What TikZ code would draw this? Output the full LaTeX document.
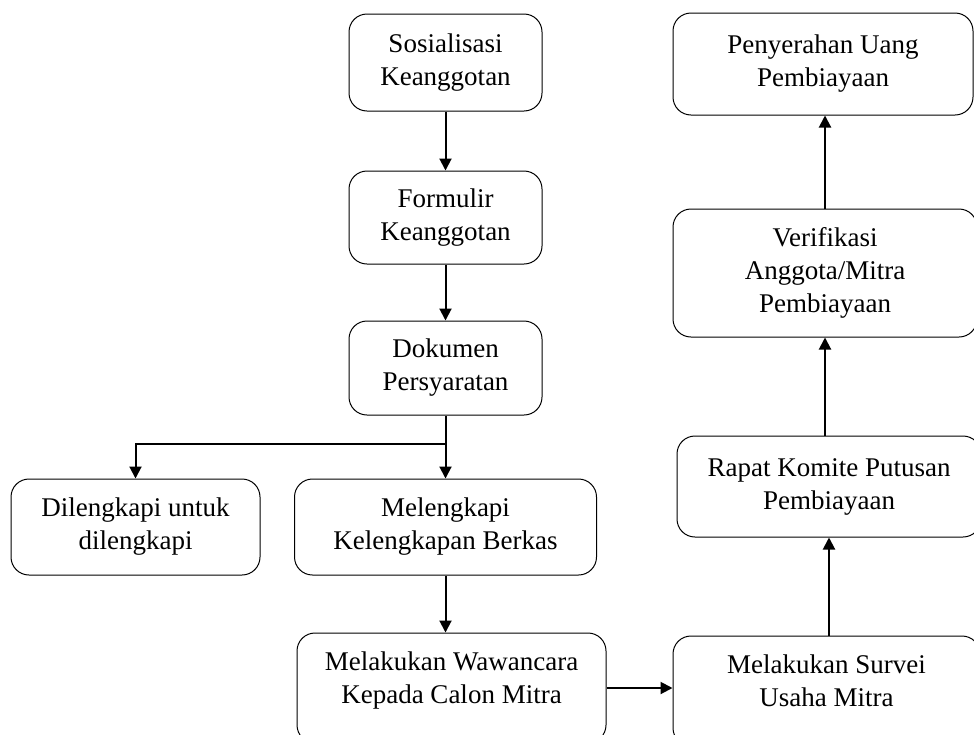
\documentclass[tikz,border=0pt]{standalone}
\usepackage{fontspec}
\setmainfont{Liberation Serif}
\usetikzlibrary{arrows.meta}

\begin{document}
\begin{tikzpicture}[x=1pt, y=-1pt, font=\fontsize{27}{33}\selectfont,
    box/.style={draw, rounded corners=18pt, align=center, line width=1pt},
    arr/.style={-{Triangle[length=12pt,width=12pt]}, line width=2pt}]
    \useasboundingbox (0,0) rectangle (974,734);

    \node[box, minimum width=193pt, minimum height=97pt] (sos) at (445.5,62.5) {Sosialisasi\\Keanggotan};
    \node[box, minimum width=193pt, minimum height=93pt] (form) at (445.5,217.5) {Formulir\\Keanggotan};
    \node[box, minimum width=193pt, minimum height=94pt] (dok) at (445.5,368) {Dokumen\\Persyaratan};
    \node[box, minimum width=249pt, minimum height=96pt] (dil) at (135.5,527) {Dilengkapi untuk\\dilengkapi};
    \node[box, minimum width=302pt, minimum height=96pt] (mel) at (445.5,527) {Melengkapi\\Kelengkapan Berkas};
    \node[box, minimum width=309pt, text height=70pt, text depth=40pt, inner ysep=0pt] (waw) at (451.5,688) {Melakukan Wawancara\\Kepada Calon Mitra};
    \node[box, minimum width=307pt, text height=70pt, text depth=40pt, inner ysep=0pt] (surv) at (826.5,691) {Melakukan Survei\\Usaha Mitra};
    \node[box, minimum width=304pt, minimum height=101pt] (rap) at (829,486.5) {Rapat Komite Putusan\\Pembiayaan};
    \node[box, minimum width=304pt, minimum height=128pt] (ver) at (825,273) {Verifikasi\\Anggota/Mitra\\Pembiayaan};
    \node[box, minimum width=300pt, minimum height=102pt] (pen) at (823,64) {Penyerahan Uang\\Pembiayaan};

    \coordinate (split) at ([yshift=-28pt]dok.south);

    \draw[arr] (sos) -- (form);
    \draw[arr] (form) -- (dok);
    \draw[arr] (dok.south) -- (split) -| (dil.north);
    \draw[arr] (split) -- (mel.north);
    \draw[arr] (mel.south) -- (mel.south |- waw.north);
    \draw[arr] (waw.east) -- (waw.east -| surv.west);
    \draw[arr] (rap.south |- surv.north) -- (rap.south);
    \draw[arr] (ver.south |- rap.north) -- (ver.south);
    \draw[arr] (ver.north) -- (ver.north |- pen.south);
\end{tikzpicture}
\end{document}
